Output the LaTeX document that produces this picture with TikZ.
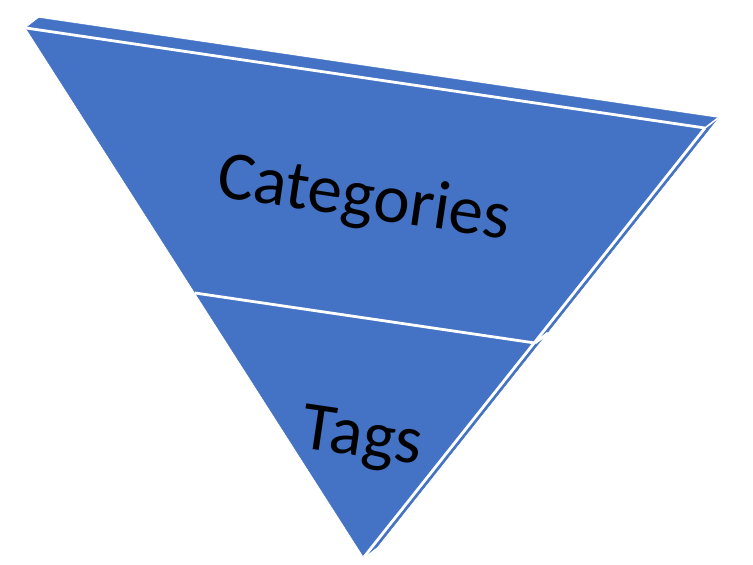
\documentclass[tikz,border=0pt]{standalone}
\usepackage{fontspec}
\setmainfont{Carlito}
\definecolor{faceblue}{HTML}{4472C4}
\begin{document}
\begin{tikzpicture}[x=1pt,y=-1pt,
  face/.style={fill=faceblue,draw=faceblue,line width=0.4pt,line join=round},
  seam/.style={draw=white,line width=2.8pt},
  label/.style={font=\fontsize{69}{69}\selectfont,text=black,inner sep=0pt,rotate=-8.4}]
\useasboundingbox (0,0) rectangle (753,565);
% front corners
\coordinate (A) at (26,28);
\coordinate (B) at (705,128);
\coordinate (C) at (364,557);
% back corners
\coordinate (A2) at (39,18);
\coordinate (B2) at (718,118);
\coordinate (C2) at (377,547);
% divider points
\coordinate (P) at (195,293);
\coordinate (Q) at (535,343);
\coordinate (Q2) at (548,333);
% faces
\fill[face] (A) -- (A2) -- (B2) -- (B) -- cycle;
\fill[face] (B) -- (B2) -- (C2) -- (C) -- cycle;
\fill[face] (A) -- (B) -- (C) -- cycle;
% white seams
\draw[seam] (A) -- (B);
\draw[seam] (B) -- (C);
\draw[seam,line width=1.6pt] (B) -- (B2);
\draw[seam] (P) -- (Q);
\draw[seam] (Q) -- (Q2);
% labels
\node[label] (cat) at (364,200) {Categories};
\node[label] (tags) at (362,440) {Tags};
\end{tikzpicture}
\end{document}
